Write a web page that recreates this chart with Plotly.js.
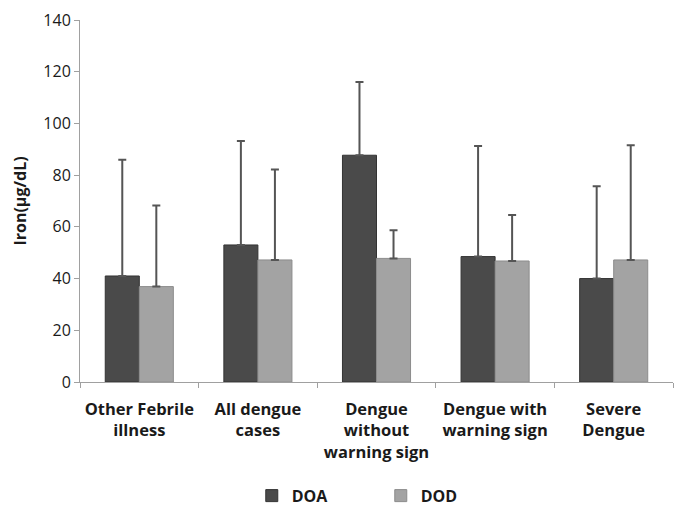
<!DOCTYPE html>
<html><head><meta charset="utf-8">
<script src="https://cdn.plot.ly/plotly-3.0.1.min.js"></script>
<style>body{margin:0;background:#fff}#chart{width:675px;height:510px}</style>
</head><body><div id="chart"></div>
<script>
var categories = ["Other Febrile<br>illness", "All dengue<br>cases", "Dengue<br>without<br>warning sign", "Dengue with<br>warning sign", "Severe<br>Dengue"];
var doaValues = [41.0, 53.0, 87.7, 48.5, 40.0];
var doaErrors = [45.0, 40.2, 28.3, 42.8, 35.7];
var dodValues = [36.9, 47.2, 47.8, 46.8, 47.2];
var dodErrors = [31.4, 35.0, 10.9, 17.8, 44.4];
var yTicks = [0, 20, 40, 60, 80, 100, 120, 140];

var font = "Open Sans, Liberation Sans, Arial, sans-serif";
var traces = [
  {type: "bar", name: "DOA", x: categories, y: doaValues,
   marker: {color: "#4a4a4a", line: {color: "#333", width: 1}},
   error_y: {type: "data", array: doaErrors, symmetric: false, arrayminus: [0,0,0,0,0], color: "#555", thickness: 2, width: 4}},
  {type: "bar", name: "DOD", x: categories, y: dodValues,
   marker: {color: "#a3a3a3", line: {color: "#8c8c8c", width: 1}},
   error_y: {type: "data", array: dodErrors, symmetric: false, arrayminus: [0,0,0,0,0], color: "#555", thickness: 2, width: 4}}
];
var layout = {
  width: 675, height: 510,
  margin: {l: 80, r: 2, t: 20, b: 128, autoexpand: false},
  paper_bgcolor: "#fff", plot_bgcolor: "#fff",
  barmode: "group", bargap: 0.426, bargroupgap: 0,
  font: {family: font, color: "#1a1a1a", size: 16},
  showlegend: true,
  legend: {orientation: "h", xref: "container", yref: "container", x: 0.373, xanchor: "left", y: 0.028, yanchor: "middle",
           font: {family: font, size: 16, color: "#1a1a1a", weight: "bold"}, traceorder: "normal", itemwidth: 30, entrywidth: 84},
  xaxis: {type: "category", showline: true, linecolor: "#a0a0a0", linewidth: 1,
          ticks: "outside", tickson: "boundaries", ticklen: 5, tickcolor: "#a0a0a0", ticklabelstandoff: 12,
          tickfont: {family: font, size: 16.5, color: "#1a1a1a", weight: "bold"}, tickangle: 0, showgrid: false},
  yaxis: {range: [0, 140], tickvals: yTicks, ticktext: yTicks.map(String),
          showline: true, linecolor: "#a0a0a0", linewidth: 1, ticks: "outside", ticklen: 5, tickcolor: "#a0a0a0",
          showgrid: false, zeroline: false, tickfont: {family: font, size: 16, color: "#1a1a1a"},
          title: {text: "Iron(µg/dL)", font: {family: font, size: 16, color: "#1a1a1a", weight: "bold"}, standoff: 12}}
};
Plotly.newPlot("chart", traces, layout, {displayModeBar: false, staticPlot: true});
</script></body></html>
